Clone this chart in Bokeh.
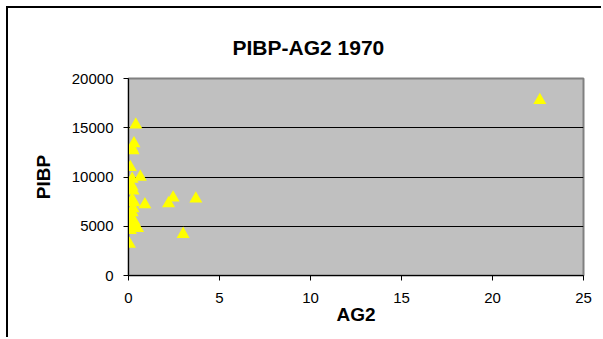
from bokeh.plotting import figure
from bokeh.models import ColumnDataSource, Range1d, FixedTicker, Title
from bokeh.embed import file_html
from bokeh.resources import INLINE

title_text = "PIBP-AG2 1970"
x_label = "AG2"
y_label = "PIBP"

ag2 = [0.4, 0.3, 0.2, 0.25, 0.1, 0.65, 0.2, 0.1, 0.25, 0.2, 0.3, 0.9, 0.25,
       0.2, 0.15, 0.3, 0.35, 0.5, 0.1, 0.05, 0.2, 2.2, 2.45, 3.7, 3.0, 22.6]
pibp = [15300, 13400, 12900, 12700, 11000, 10000, 9800, 9300, 8600, 7700, 7400,
        7200, 6800, 6400, 5800, 5500, 5100, 4800, 4600, 3200, 9000, 7300, 7900,
        7800, 4200, 17800]

x_ticks = [0, 5, 10, 15, 20, 25]
y_ticks = [0, 5000, 10000, 15000, 20000]

FONT = "Liberation Sans"

p = figure(width=595, height=331, output_backend="svg", toolbar_location=None,
           x_range=Range1d(0, 25), y_range=Range1d(0, 20000),
           min_border_left=120, min_border_right=20, min_border_top=70,
           min_border_bottom=64)
p.margin = (6, 0, 0, 6)
p.styles = {"border-left": "2px solid black", "border-top": "2px solid black"}

p.title = Title(text=title_text, align="left", offset=104, standoff=40,
                text_font=FONT, text_font_size="21px", text_font_style="bold",
                text_color="black")

p.background_fill_color = "#C0C0C0"
p.border_fill_color = "white"
p.outline_line_color = "#808080"
p.outline_line_width = 2

p.xgrid.grid_line_color = None
p.ygrid.grid_line_color = "black"
p.ygrid.grid_line_width = 1

for ax in (p.xaxis[0], p.yaxis[0]):
    ax.axis_line_color = "black"
    ax.major_tick_line_color = "black"
    ax.major_tick_out = 5
    ax.major_tick_in = 0
    ax.minor_tick_line_color = None
    ax.major_label_text_font = FONT
    ax.major_label_text_font_size = "15px"
    ax.major_label_text_color = "black"
    ax.axis_label_text_font = FONT
    ax.axis_label_text_font_size = "19px"
    ax.axis_label_text_font_style = "bold"
    ax.axis_label_text_color = "black"

p.xaxis[0].ticker = FixedTicker(ticks=x_ticks)
p.yaxis[0].ticker = FixedTicker(ticks=y_ticks)
p.xaxis[0].axis_label = x_label
p.yaxis[0].axis_label = y_label
p.xaxis[0].major_label_standoff = 12
p.yaxis[0].major_label_standoff = 10
p.xaxis[0].axis_label_standoff = -2
p.yaxis[0].axis_label_standoff = 15
p.yaxis[0].major_label_orientation = "horizontal"

src = ColumnDataSource(dict(x=ag2, y=pibp))
p.scatter("x", "y", source=src, marker="triangle", size=13,
          fill_color="#FFFF00", line_color="#FFFF00", line_width=0)

open("out.html", "w").write(file_html(p, INLINE))
